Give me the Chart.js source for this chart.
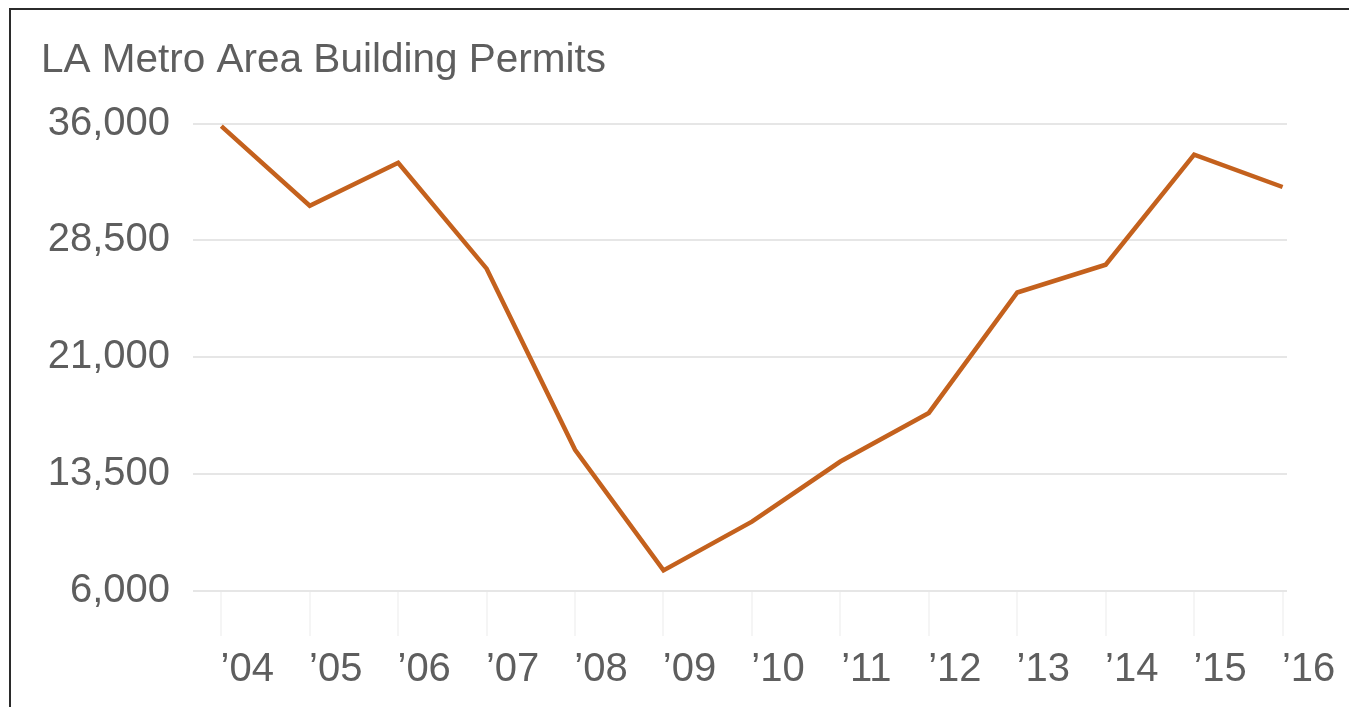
<!DOCTYPE html>
<html>
<head>
<meta charset="utf-8">
<title>LA Metro Area Building Permits</title>
<script src="https://cdn.jsdelivr.net/npm/chart.js@4/dist/chart.umd.min.js"></script>
<style>
  html, body { margin: 0; padding: 0; background: #fff; overflow: hidden; }
  #wrap { position: relative; width: 1349px; height: 707px; }
  #frame {
    position: absolute; left: 9px; top: 8px; right: 0; bottom: -10px;
    border-left: 2px solid #2b2b2b; border-top: 2px solid #2b2b2b;
    pointer-events: none;
  }
</style>
</head>
<body>
<div id="wrap">
  <canvas id="myChart" width="1349" height="707"></canvas>
  <div id="frame"></div>
</div>
<script>
// data
const years = ["\u201904", "\u201905", "\u201906", "\u201907", "\u201908", "\u201909", "\u201910",
               "\u201911", "\u201912", "\u201913", "\u201914", "\u201915", "\u201916"];
const permits = [35840, 30730, 33490, 26690, 15060, 7320, 10450,
                 14310, 17430, 25160, 26940, 34010, 31930];
const yTicks = [6000, 13500, 21000, 28500, 36000];

const textColor = "#5e5e5e";
const font = { family: "'Liberation Sans', Arial, Helvetica, sans-serif", size: 40 };

const ctx = document.getElementById("myChart").getContext("2d");
const myChart = new Chart(ctx, {
  type: "line",
  data: {
    datasets: [
      {
        label: "Building permits",
        data: permits.map((v, i) => ({ x: i, y: v })),
        borderColor: "#c4611d",
        borderWidth: 4.5,
        pointRadius: 0,
        tension: 0,
        fill: false,
        clip: false,
      },
    ],
  },
  options: {
    responsive: false,
    animation: false,
    layout: { padding: { left: 41, top: 37, right: 62, bottom: 3 } },
    plugins: {
      legend: { display: false },
      tooltip: { enabled: false },
      title: {
        display: true,
        text: "LA Metro Area Building Permits",
        align: "start",
        color: textColor,
        font: { family: font.family, size: 40.5, weight: "normal" },
        padding: { top: 0, bottom: 38 },
      },
    },
    scales: {
      x: {
        type: "linear",
        min: -0.32,
        max: 12.05,
        border: { display: false },
        grid: {
          drawOnChartArea: false,
          drawTicks: true,
          tickLength: 45,
          color: "#f5f5f5",
          lineWidth: 2,
        },
        ticks: {
          stepSize: 1,
          includeBounds: false,
          autoSkip: false,
          maxRotation: 0,
          labelOffset: 26,
          padding: 10,
          color: textColor,
          font: font,
          callback: (value) => (Number.isInteger(value) ? years[value] : ""),
        },
      },
      y: {
        min: yTicks[0],
        max: yTicks[yTicks.length - 1],
        border: { display: false },
        afterFit: (scale) => {
          scale.width = 152;
        },
        afterBuildTicks: (scale) => {
          scale.ticks = yTicks.map((v) => ({ value: v }));
        },
        grid: {
          drawTicks: false,
          color: "#e6e6e6",
          lineWidth: 2,
        },
        ticks: {
          padding: 23,
          color: textColor,
          font: font,
          callback: (value) => value.toLocaleString("en-US"),
        },
      },
    },
  },
});
</script>
</body>
</html>
